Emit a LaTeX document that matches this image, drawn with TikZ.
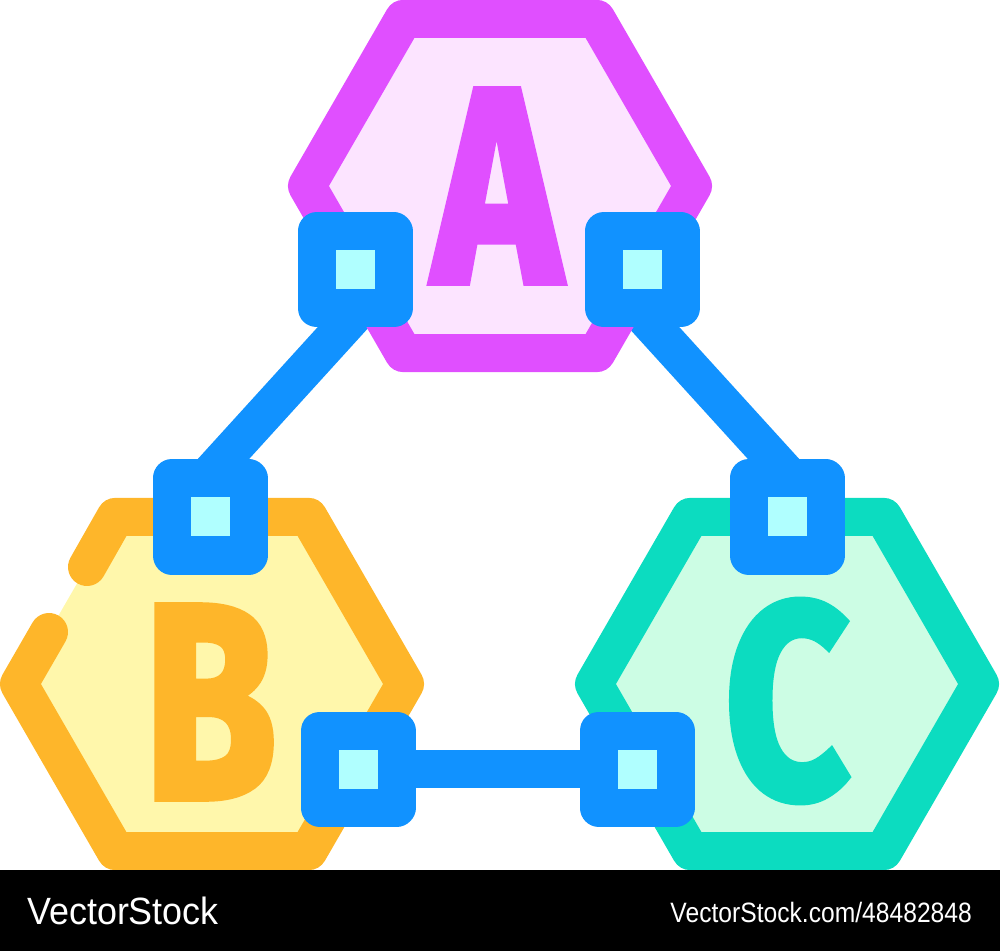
\documentclass[tikz,border=0pt]{standalone}
\usepackage{fontspec}
\setmainfont{Liberation Sans}
\newfontfamily\letterfont{Fira Sans}[FakeBold=3]
\usetikzlibrary{backgrounds}

\definecolor{jointblue}{HTML}{1192FF}
\definecolor{jointcyan}{HTML}{B0FFFF}
\definecolor{amagenta}{HTML}{E04FFF}
\definecolor{apink}{HTML}{FCE4FF}
\definecolor{borange}{HTML}{FEB62A}
\definecolor{byellow}{HTML}{FFF7AB}
\definecolor{cteal}{HTML}{0CDCC0}
\definecolor{cmint}{HTML}{CCFDE4}

\tikzset{
  hexline/.style={line width=38pt, line join=round, line cap=round},
  joint/.style={draw=jointblue, fill=jointcyan, line width=38pt, line join=round,
    minimum size=77pt, inner sep=0pt},
  link/.style={draw=jointblue, line width=38pt, shorten <=-20pt, shorten >=-20pt},
  letter/.style={inner sep=0pt, font=\letterfont\bfseries\fontsize{276}{276}\selectfont,
    xscale=0.78, transform shape}
}

\begin{document}
\begin{tikzpicture}[x=1pt, y=1pt]
\useasboundingbox (0,0) rectangle (1000,951);
\coordinate (hexA) at (500,765);
\coordinate (hexB) at (212,267);
\coordinate (hexC) at (787,267);

\filldraw[hexline, draw=amagenta, fill=apink, shift={(hexA)}]
  (0:193) -- (60:193) -- (120:193) -- (180:193) -- (240:193) -- (300:193) -- cycle;
\fill[byellow, shift={(hexB)}]
  (0:193) -- (60:193) -- (120:193) -- (180:193) -- (240:193) -- (300:193) -- cycle;
\draw[hexline, draw=borange, shift={(hexB)}]
  (-125,117) -- (120:193) -- (60:193) -- (0:193) -- (300:193) -- (240:193) -- (180:193) -- (-163,52);
\filldraw[hexline, draw=cteal, fill=cmint, shift={(hexC)}]
  (0:193) -- (60:193) -- (120:193) -- (180:193) -- (240:193) -- (300:193) -- cycle;

\node[letter, text=amagenta] (A) at (497,765) {A};
\node[letter, text=borange] (B) at (210,249) {B};
\node[letter, text=cteal] (C) at (787,250) {C};

\node[joint] (ja) at (355,681) {};
\node[joint] (jb) at (642,681) {};
\node[joint] (jc) at (210,434) {};
\node[joint] (jd) at (787,434) {};
\node[joint] (je) at (358,182) {};
\node[joint] (jf) at (637,182) {};

\begin{pgfonlayer}{background}
\draw[link] ([xshift=-12pt]ja.south) -- ([xshift=13pt]jc.north);
\draw[link] ([xshift=12pt]jb.south) -- ([xshift=-13pt]jd.north);
\draw[link] (je.center) -- (jf.center);
\end{pgfonlayer}

\fill[black] (0,0) rectangle (1000,81);
\node[anchor=west, text=white, inner sep=0pt, font=\fontsize{38}{38}\selectfont,
  xscale=0.945, transform shape] (brand) at (27,40) {VectorStock};
\node[anchor=east, text=white, inner sep=0pt, font=\fontsize{28}{28}\selectfont,
  xscale=0.88, transform shape] (stockid) at (972,39) {VectorStock.com/48482848};
\end{tikzpicture}
\end{document}
